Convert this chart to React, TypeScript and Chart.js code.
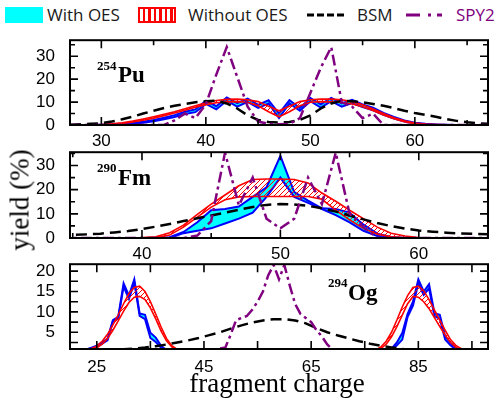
import React, { useEffect, useRef } from "react";
import { Chart, registerables } from "chart.js";
Chart.register(...registerables);

// ---------- Panel 1: 254Pu ----------
const puCharge = [27,28,29,30,31,32,33,34,35,36,37,38,39,40,41,42,43,44,45,46,47,48,49,50,51,52,53,54,55,56,57,58,59,60,61,62,63,64,65,66,67];
const puWithOesUpper = [0,0,0,0.1,0.2,0.4,0.8,1.4,2.2,3.2, 4.3,5.8,6.8,10.6,8.2,12,9.5,11.5,8.8,10.8, 5,10.8,7.4,11.8,9,11.8,9.4,11,9,7.6, 5.3,3.5,2,1,0.5,0.2,0.1,0,0,0,0];
const puWithOesLower = [0,0,0,0,0.1,0.2,0.5,1,1.6,2.5, 3.5,4.8,5.6,9.2,6.8,10.6,8,10.1,7.5,9.4, 3,9.4,6.2,10.4,7.6,10.4,8,9.6,7.8,6.4, 4.4,2.8,1.5,0.7,0.3,0.1,0,0,0,0,0];
const puWithoutOesUpper = [0,0,0.1,0.2,0.5,1,1.7,2.6,3.6,4.7, 5.8,7.1,8.4,9.7,10.7,11.2,11.3,11,10.2,8.2, 6.2,8.2,10.2,11,11.3,11.3,11,10.2,8.8,7, 5,3.2,1.8,0.9,0.4,0.2,0.1,0,0,0,0];
const puWithoutOesLower = [0,0,0,0.1,0.3,0.7,1.3,2.1,3,4.1, 5.2,6.4,7.7,8.9,9.7,10.1,10.2,9.9,8.4,5.8, 3.6,5.8,8.4,9.9,10.2,10.1,9.8,9.2,8,6.3, 4.4,2.7,1.4,0.6,0.2,0.1,0,0,0,0,0];
const puBsm = [0.1,0.3,0.5,0.8,1.5,2.5,3.6,5,6.2,7.4, 8.4,9.2,9.9,10.4,10.6,9.4,7.2,4.2,2.2,1.3, 1.1,1.3,2.2,4.2,7.2,9.4,10.6,10.4,9.9,9.2, 8.4,7.4,6.2,5.2,4.4,3.6,2.6,1.8,1.2,0.8,0.5];
const puSpy2 = [0,0,0,0,0,0,0,0,0, 0,2,5,3,9,22,34,21,8,1.5, 0.5,0.3,0.5,3,14,25,34,10,8,3, 5,0,0,0,0,0,0,0,0,0,0,0];
const puXMajor = [30,40,50,60];
const puXMinor = [35,45,55,65];
const puYMajor = [0,10,20,30];
const puYMinor = [5,15,25,35];

// ---------- Panel 2: 290Fm ----------
const fmCharge = [34,35,36,37,38,39,40,41,42,43,44,45,46,47,48,49,50,51,52,53,54,55,56,57,58,59,60,61,62,63,64,65];
const fmWithOesUpper = [0,0,0,0,0,0,0,0, 0.3,2.5,6.5,11.5,12,13,17,21,34,19,15.5,12.3,12,10.5,5.5,1.8,0.4, 0,0,0,0,0,0,0];
const fmWithOesLower = [0,0,0,0,0,0,0,0,0, 2,3,4,6,8,10.5,17,25,17,14.5,12,9.5,6.5,3,0.8,0.1, 0,0,0,0,0,0,0];
const fmWithoutOesUpper = [0,0,0,0,0,0.05,0.15, 0.5,2.2,5.3,9.8,14,17.8,21.6,24.2,24.4,24.4,24.2,22.8,18.6,15.2,11.5,8,4.5,2,0.8,0.2, 0,0,0,0,0];
const fmWithoutOesLower = [0,0,0,0,0,0,0, 0.1,1.2,4.5,8.6,12.8,15.8,17,17.2,17.2,17.2,17.2,17.2,16,11.5,7.5,4,1.6,0.5,0.1,0, 0,0,0,0,0];
const fmBsm = [1.2,1.3,1.5,1.8,2.3,2.9,3.7,4.7,5.8,7.0, 8.2,9.3,10.5,11.7,12.8,13.7,14.1,13.9,13.3,12.3, 10.9,9.3,7.7,6.2,4.9,3.9,3.1,2.6,2.2,1.9, 1.7,1.6];
const fmSpy2 = [0,0,0,0,0,0,0,0,0, 0,1,7,35.3,13.5,25,8,4,8,25,14,35.3,10,4.5,0, 0,0,0,0,0,0,0,0];
const fmXMajor = [40,50,60];
const fmXMinor = [35,45,55];
const fmYMajor = [0,10,20,30];
const fmYMinor = [5,15,25,35];

// ---------- Panel 3: 294Og ----------
const ogLightCharge = [20,21,22,23,24,25,26,27,28,29,30,31,32,33,34,35,36,37,38,39,40,41,42];
const ogHeavyCharge = [76,77,78,79,80,81,82,83,84,85,86,87,88,89,90,91,92,93,94,95,96,97,98];
const ogWithOesLightUpper = [0,0.2,0.5,0.8,1.2,1.7,2.6,3.4,8,8.8, 17,14,18,9.6,9.3,4.9,3.7,1.7,0.6,0.2, 0,0,0];
const ogWithOesLightLower = [0,0.1,0.3,0.6,1,1.4,2.2,3,7.6,8.4, 16.2,13.2,17.2,9,8.2,3.6,2.6,1.2,0.4,0.1, 0,0,0];
const ogWithOesHeavyUpper = [0,0,0,0.3,1,2.5,4.8,9.5,12.5,18, 15,16.8,9.7,9.3,4,2.4,1.2,0.6,0.3,0.1, 0,0,0];
const ogWithOesHeavyLower = [0,0,0,0.1,0.6,1.8,3.2,8.8,11.5,17, 14.2,15.8,9,8.3,3.2,1.8,0.8,0.4,0.1,0, 0,0,0];
const ogWithoutOesLightUpper = [0,0.1,0.2,0.5,1,1.6,2.8,4.5,6.8,9.3, 12,14.5,16,16.3,15,12.5,9.5,6.3,3.5,1.7, 0.8,0.4,0.2];
const ogWithoutOesLightLower = [0,0,0.1,0.3,0.7,1.2,2.1,3.5,5.5,7.8, 10.2,12.3,13.6,13.8,13,11,8.3,5.3,2.9,1.4, 0.6,0.3,0.1];
const ogWithoutOesHeavyUpper = [0.2,0.6,1.4,2.8,5,8,11.2,14,16,16.3, 15.2,13,10.5,8,5.5,3.2,1.8,1,0.5,0.2, 0.1,0,0];
const ogWithoutOesHeavyLower = [0.1,0.4,1,2.1,3.9,6.4,9.2,12,13.8,13.6, 12.5,10.8,8.6,6.4,4.3,2.5,1.3,0.6,0.3,0.1, 0,0,0];
const ogBsmCharge = [20,22,24,26,28,30,32,34,36,38,40,42,44,46,48,50,52,54,56,58,60,62,64,66,68,70,72,74,76,78,80,82,84,86,88,90,92,94,96,98];
const ogBsm = [0.3,0.4,0.5,0.6,0.75,0.85,1,1.25,1.6,2, 2.5,3,3.6,4.3,5,5.9,6.7,7.4,7.9,8.2, 8.2,7.9,7.2,6,5,4.2,3.5,2.8,2.2,1.7, 1.3,0.9,0.6,0.4,0.3,0.2,0.1,0.1,0,0];
const ogSpyCharge = [44,45,46,47,48,49,50,51,52,53,54,55,56,57,58,59,60,61,62,63,64,65,66,67,68,69,70,71,72,73,74];
const ogSpy2 = [0,0.3,0.6,0.8,1,1.3,4.5,8,8.5,9, 10.5,12.5,15,19,21.5,18,21.5,16.5,12,9.5, 8.5,7.5,5.5,4,2,0.8,0.5,0.3,0.2,0, 0];
const ogXMajor = [25,45,65,85];
const ogXMinor = [35,55,75,95];
const ogYMajor = [5,10,15,20];
const ogYMinor = [2.5,7.5,12.5,17.5];

// ---------- styling ----------
const BLUE = "#0000ff";
const CYAN = "#00ffff";
const RED = "#ff0000";
const PURPLE = "#800080";
const PAD_TOP = 12;
const XAX_H = 26;
const Y_AX_W = 70;

function makeHatch(): CanvasPattern | string {
  const c = document.createElement("canvas");
  c.width = 5;
  c.height = 5;
  const g = c.getContext("2d");
  if (!g) return "rgba(255,0,0,0.3)";
  g.strokeStyle = RED;
  g.lineWidth = 1;
  g.beginPath();
  g.moveTo(0, 5); g.lineTo(5, 0);
  g.moveTo(-1, 1); g.lineTo(1, -1);
  g.moveTo(4, 6); g.lineTo(6, 4);
  g.stroke();
  return g.createPattern(c, "repeat") || "rgba(255,0,0,0.3)";
}

const pts = (xs: number[], ys: number[]) => xs.map((x, i) => ({ x, y: ys[i] }));

function band(xs: number[], lower: number[], upper: number[], color: string, width: number, fill: any, order: number) {
  return [
    { data: pts(xs, lower), borderColor: color, borderWidth: width, pointRadius: 0, fill: false, order, tension: 0 },
    { data: pts(xs, upper), borderColor: color, borderWidth: width, pointRadius: 0, fill: "-1", backgroundColor: fill, order, tension: 0 },
  ];
}
function bsmLine(xs: number[], ys: number[]) {
  return { data: pts(xs, ys), borderColor: "#000", borderWidth: 2.5, borderDash: [11, 6], pointRadius: 0, fill: false, order: 2 };
}
function spyLine(xs: number[], ys: number[]) {
  return { data: pts(xs, ys), borderColor: PURPLE, borderWidth: 2.5, borderDash: [11, 4, 3, 4], pointRadius: 0, fill: false, order: 1 };
}

const frameTicks = {
  id: "frameTicks",
  afterDatasetsDraw(chart: any, _args: any, o: any) {
    const { ctx, chartArea, scales } = chart;
    const { left, right, top, bottom } = chartArea;
    const x = scales.x, y = scales.y;
    ctx.save();
    ctx.strokeStyle = "#000";
    ctx.lineWidth = 1.6;
    ctx.beginPath();
    const xt = (vals: number[], len: number) => vals.forEach((v) => {
      const p = x.getPixelForValue(v);
      ctx.moveTo(p, bottom); ctx.lineTo(p, bottom - len);
      ctx.moveTo(p, top); ctx.lineTo(p, top + len);
    });
    const yt = (vals: number[], len: number) => vals.forEach((v) => {
      const p = y.getPixelForValue(v);
      ctx.moveTo(left, p); ctx.lineTo(left + len, p);
      ctx.moveTo(right, p); ctx.lineTo(right - len, p);
    });
    xt(o.xMajor, 8); xt(o.xMinor, o.minorLen);
    yt(o.yMajor, 8); yt(o.yMinor, o.minorLen);
    ctx.stroke();
    ctx.lineWidth = 2;
    ctx.strokeRect(left, top, right - left, bottom - top);
    ctx.restore();
  },
};

type PanelProps = {
  top: number; plotH: number; xMin: number; xMax: number; yMin: number; yMax: number;
  xMajor: number[]; xMinor: number[]; yMajor: number[]; yMinor: number[]; minorLen: number; xPad: number;
  build: (hatch: any) => any[];
};

function Panel(p: PanelProps) {
  const ref = useRef<HTMLCanvasElement>(null);
  const H = PAD_TOP + p.plotH + XAX_H;
  useEffect(() => {
    if (!ref.current) return;
    const hatch = makeHatch();
    const tickFont = { family: "'Liberation Sans', Arial, sans-serif", size: 17 };
    const chart = new Chart(ref.current, {
      type: "line",
      data: { datasets: p.build(hatch) },
      options: {
        responsive: false,
        animation: false,
        events: [],
        layout: { padding: { top: PAD_TOP, right: 8, left: 0, bottom: 0 } },
        plugins: {
          legend: { display: false },
          tooltip: { enabled: false },
          frameTicks: { xMajor: p.xMajor, xMinor: p.xMinor, yMajor: p.yMajor, yMinor: p.yMinor, minorLen: p.minorLen },
        } as any,
        scales: {
          x: {
            type: "linear", min: p.xMin, max: p.xMax,
            grid: { display: false }, border: { display: false },
            ticks: { font: tickFont, color: "#000", padding: p.xPad, maxRotation: 0, autoSkip: false },
            afterBuildTicks: (s: any) => { s.ticks = p.xMajor.map((v) => ({ value: v })); },
            afterFit: (s: any) => { s.height = XAX_H; },
          },
          y: {
            type: "linear", min: p.yMin, max: p.yMax,
            grid: { display: false }, border: { display: false },
            ticks: { font: tickFont, color: "#000", padding: 7, autoSkip: false },
            afterBuildTicks: (s: any) => { s.ticks = p.yMajor.map((v) => ({ value: v })); },
            afterFit: (s: any) => { s.width = Y_AX_W; },
          },
        },
      } as any,
      plugins: [frameTicks as any],
    });
    return () => chart.destroy();
  }, []);
  return (
    <canvas
      ref={ref}
      width={496}
      height={H}
      style={{ position: "absolute", left: 0, top: p.top - PAD_TOP, width: 496, height: H, display: "block" }}
    />
  );
}

const serif = "'Liberation Serif', 'Times New Roman', serif";
const sans = "'Open Sans', 'Noto Sans', sans-serif";

function NucLabel({ mass, sym, left, supLeft, supTop, top }: { mass: string; sym: string; left: number; supLeft: number; supTop: number; top: number }) {
  return (
    <>
      <span style={{ position: "absolute", left: supLeft, top: supTop, font: `bold 13px/13px ${serif}`, color: "#000", whiteSpace: "nowrap", zIndex: 5 }}>{mass}</span>
      <span style={{ position: "absolute", left, top, font: `bold 23px/23px ${serif}`, color: "#000", whiteSpace: "nowrap", zIndex: 5 }}>{sym}</span>
    </>
  );
}

export default function App() {
  const legendText = { position: "absolute" as const, top: 6, font: `17px/17px ${sans}`, color: "#1a1a1a", whiteSpace: "nowrap" as const };
  return (
    <div style={{ position: "absolute", left: 0, top: 0, width: 496, height: 401, background: "#fff", overflow: "hidden" }}>
      {/* legend */}
      <div style={{ position: "absolute", left: 5, top: 7, width: 38, height: 16, background: CYAN }} />
      <span style={{ ...legendText, left: 47 }}>With OES</span>
      <div style={{ position: "absolute", left: 138, top: 7, width: 38, height: 16, boxSizing: "border-box", border: `2px solid ${RED}`, background: `repeating-linear-gradient(to right, #fff 0px, #fff 3px, ${RED} 3px, ${RED} 5.5px)` }} />
      <span style={{ ...legendText, left: 188 }}>Without OES</span>
      <svg style={{ position: "absolute", left: 307, top: 9 }} width={38} height={12}>
        <line x1={0} y1={6} x2={38} y2={6} stroke="#000" strokeWidth={3} strokeDasharray="7 3" />
      </svg>
      <span style={{ ...legendText, left: 357 }}>BSM</span>
      <svg style={{ position: "absolute", left: 406, top: 9 }} width={36} height={12}>
        <line x1={0} y1={6} x2={36} y2={6} stroke={PURPLE} strokeWidth={3} strokeDasharray="14 8 3 6" />
      </svg>
      <span style={{ ...legendText, left: 456, color: PURPLE }}>SPY2</span>

      <Panel
        top={35} plotH={90} xMin={27} xMax={67} yMin={0} yMax={37}
        xMajor={puXMajor} xMinor={puXMinor} yMajor={puYMajor} yMinor={puYMinor} minorLen={5} xPad={-2}
        build={(h) => [
          ...band(puCharge, puWithOesLower, puWithOesUpper, BLUE, 2, CYAN, 4),
          ...band(puCharge, puWithoutOesLower, puWithoutOesUpper, RED, 1.6, h, 3),
          bsmLine(puCharge, puBsm),
          spyLine(puCharge, puSpy2),
        ]}
      />
      <Panel
        top={147} plotH={91} xMin={34.8} xMax={65} yMin={0} yMax={35.5}
        xMajor={fmXMajor} xMinor={fmXMinor} yMajor={fmYMajor} yMinor={fmYMinor} minorLen={5} xPad={-2}
        build={(h) => [
          ...band(fmCharge, fmWithOesLower, fmWithOesUpper, BLUE, 2, CYAN, 4),
          ...band(fmCharge, fmWithoutOesLower, fmWithoutOesUpper, RED, 1.6, h, 3),
          bsmLine(fmCharge, fmBsm),
          spyLine(fmCharge, fmSpy2),
        ]}
      />
      <Panel
        top={259} plotH={90} xMin={20} xMax={98} yMin={0.9} yMax={21.7}
        xMajor={ogXMajor} xMinor={ogXMinor} yMajor={ogYMajor} yMinor={ogYMinor} minorLen={8} xPad={0}
        build={(h) => [
          ...band(ogLightCharge, ogWithOesLightLower, ogWithOesLightUpper, BLUE, 2, CYAN, 4),
          ...band(ogHeavyCharge, ogWithOesHeavyLower, ogWithOesHeavyUpper, BLUE, 2, CYAN, 4),
          ...band(ogLightCharge, ogWithoutOesLightLower, ogWithoutOesLightUpper, RED, 1.6, h, 3),
          ...band(ogHeavyCharge, ogWithoutOesHeavyLower, ogWithoutOesHeavyUpper, RED, 1.6, h, 3),
          bsmLine(ogBsmCharge, ogBsm),
          spyLine(ogSpyCharge, ogSpy2),
        ]}
      />

      <NucLabel mass="254" sym="Pu" supLeft={97} supTop={59} left={118} top={63} />
      <NucLabel mass="290" sym="Fm" supLeft={97} supTop={161} left={118} top={166} />
      <NucLabel mass="294" sym="Og" supLeft={328} supTop={276} left={348} top={281} />

      <div style={{ position: "absolute", left: 20, top: 200, transform: "translate(-50%, -50%) rotate(-90deg)", font: `27px/27px ${serif}`, color: "#000", whiteSpace: "nowrap", zIndex: 5 }}>yield (%)</div>
      <div style={{ position: "absolute", left: 277, top: 370, transform: "translateX(-50%)", font: `27px/27px ${serif}`, color: "#000", whiteSpace: "nowrap", zIndex: 5 }}>fragment charge</div>
    </div>
  );
}
